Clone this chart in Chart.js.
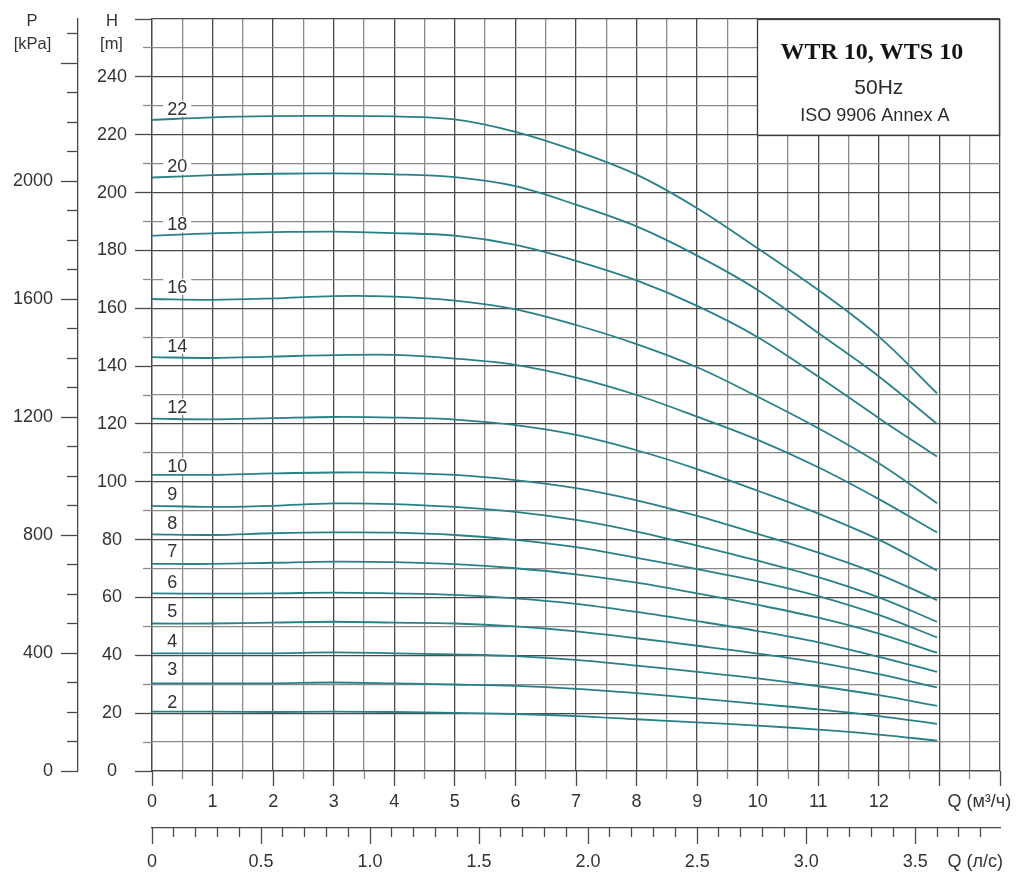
<!DOCTYPE html>
<html>
<head>
<meta charset="utf-8">
<script src="https://cdn.jsdelivr.net/npm/chart.js@4.4.1/dist/chart.umd.min.js"></script>
<style>
html,body{margin:0;padding:0;background:#fff;}
#wrap{width:1022px;height:875px;}
</style>
</head>
<body>
<div id="wrap"><canvas id="c" width="1022" height="875"></canvas></div>
<script>
// ---------- data ----------
const Q_M3H = [0, 1, 2, 3, 4, 5, 6, 7, 8, 9, 10, 11, 12, 12.96];
const H_22 = [225.1, 226.0, 226.4, 226.5, 226.3, 225.3, 221.0, 214.4, 206.2, 194.6, 180.7, 166.3, 150.2, 130.6];
const H_20 = [205.2, 206.0, 206.5, 206.6, 206.3, 205.3, 202.2, 195.8, 188.3, 178.2, 166.3, 151.4, 136.4, 120.0];
const H_18 = [185.1, 185.9, 186.3, 186.5, 186.0, 185.1, 181.9, 176.4, 169.6, 160.8, 150.0, 136.4, 122.0, 108.7];
const H_16 = [163.2, 162.9, 163.4, 164.2, 164.0, 162.6, 159.6, 154.2, 147.6, 139.6, 129.4, 118.5, 106.4, 92.6];
const H_14 = [143.1, 142.8, 143.3, 143.8, 143.9, 142.6, 140.4, 136.0, 130.0, 122.5, 114.5, 105.0, 94.0, 82.5];
const H_12 = [121.8, 121.6, 122.0, 122.4, 122.2, 121.5, 119.6, 116.2, 110.9, 104.4, 96.9, 89.0, 80.0, 69.3];
const H_10 = [102.4, 102.4, 102.9, 103.2, 103.1, 102.4, 100.6, 97.8, 93.6, 88.2, 82.0, 75.5, 68.0, 59.1];
const H_9  = [91.7, 91.3, 91.7, 92.5, 92.3, 91.3, 89.6, 86.8, 82.8, 77.9, 72.7, 67.0, 60.0, 51.6];
const H_8  = [81.8, 81.6, 82.2, 82.5, 82.4, 81.6, 79.9, 77.4, 73.7, 69.8, 65.6, 60.5, 54.0, 46.2];
const H_7  = [71.6, 71.6, 72.0, 72.4, 72.2, 71.5, 70.1, 68.0, 65.1, 61.4, 57.4, 53.0, 47.5, 40.9];
const H_6  = [61.4, 61.3, 61.4, 61.7, 61.4, 60.9, 59.7, 57.8, 55.0, 51.8, 48.4, 44.5, 39.5, 34.3];
const H_5  = [51.0, 51.0, 51.3, 51.6, 51.3, 51.0, 50.0, 48.3, 45.9, 43.3, 40.6, 37.5, 33.5, 28.9];
const H_4  = [40.7, 40.7, 40.7, 41.0, 40.7, 40.3, 39.7, 38.4, 36.4, 34.3, 32.0, 29.3, 26.2, 22.5];
const H_3  = [30.3, 30.3, 30.3, 30.6, 30.3, 29.9, 29.4, 28.4, 26.9, 25.1, 23.2, 21.3, 19.0, 16.3];
const H_2  = [20.5, 20.5, 20.4, 20.5, 20.4, 20.1, 19.7, 19.0, 17.9, 16.8, 15.7, 14.3, 12.6, 10.5];

const STAGE_NAMES = ['22','20','18','16','14','12','10','9','8','7','6','5','4','3','2'];
const STAGE_HEADS = [H_22, H_20, H_18, H_16, H_14, H_12, H_10, H_9, H_8, H_7, H_6, H_5, H_4, H_3, H_2];
const STAGE_LABEL_H = [229, 209, 189, 167.5, 147, 126, 105.5, 95.6, 85.9, 75.9, 65.5, 55.4, 45, 35.3, 23.9];
const STAGE_LABEL_Q = 0.25;

// tick labels
const Q_LABELS = [0,1,2,3,4,5,6,7,8,9,10,11,12];
const H_LABELS = [0,20,40,60,80,100,120,140,160,180,200,220,240];
const P_LABELS = [0,400,800,1200,1600,2000];
const QLS_LABEL_VALUES = [0,0.5,1.0,1.5,2.0,2.5,3.0,3.5];
const QLS_LABEL_TEXT = ['0','0.5','1.0','1.5','2.0','2.5','3.0','3.5'];
const BOX_TEXT = ['WTR 10, WTS 10', '50Hz', 'ISO 9906 Annex A'];
const AXIS_TEXT = { p: 'P', pUnit: '[kPa]', h: 'H', hUnit: '[m]', q: 'Q (м³/ч)', qls: 'Q (л/с)' };

// grid / tick positions
const Q_GRID = Array.from({length: 29}, (_, i) => i * 0.5);      // 0..14 m3/h
const H_GRID = Array.from({length: 27}, (_, i) => i * 10);       // 0..260 m
const P_MINOR = Array.from({length: 26}, (_, i) => i * 100);     // 0..2500 kPa
const QLS_MINOR = Array.from({length: 39}, (_, i) => i / 10);    // 0..3.8 l/s
const H_MAX = 260, Q_MAX = 14, KPA_PER_M = 9.81, M3H_PER_LS = 3.6;

// ---------- style ----------
const FONT = "'Liberation Sans', Arial, Helvetica, sans-serif";
const FS = 18;
const C_MAJOR = '#4a4a4a', C_MINOR = '#8a8a8a', C_TEXT = '#333333', C_CURVE = '#2a8185';
const isInt = v => Math.abs(v - Math.round(v)) < 1e-6;
const al = (p, w) => Math.round(p - w / 2) + w / 2;

const datasets = STAGE_NAMES.map((name, i) => ({
  label: name,
  data: Q_M3H.map((q, j) => ({ x: q, y: STAGE_HEADS[i][j] })),
  borderColor: C_CURVE,
  borderWidth: 1.8,
  pointRadius: 0,
  fill: false,
  tension: 0.35,
  xAxisID: 'x',
  yAxisID: 'y'
}));

function line(ctx, x1, y1, x2, y2) { ctx.beginPath(); ctx.moveTo(x1, y1); ctx.lineTo(x2, y2); ctx.stroke(); }

const decor = {
  id: 'decor',
  beforeDatasetsDraw(chart) {
    const { ctx, scales: { x, y } } = chart;
    ctx.save();
    // info box
    const bx1 = x.getPixelForValue(10), bx2 = x.getPixelForValue(14);
    const by1 = y.getPixelForValue(260), by2 = y.getPixelForValue(220);
    ctx.fillStyle = '#fff';
    ctx.fillRect(bx1, by1, bx2 - bx1, by2 - by1);
    ctx.strokeStyle = '#3a3a3a'; ctx.lineWidth = 1.3;
    ctx.strokeRect(al(bx1, 1), al(by1, 1), Math.round(bx2 - bx1), Math.round(by2 - by1));
    const cx = (bx1 + bx2) / 2;
    ctx.textAlign = 'center'; ctx.textBaseline = 'alphabetic';
    ctx.fillStyle = '#141414';
    ctx.font = "bold 24px 'Liberation Serif', 'Times New Roman', serif";
    ctx.fillText(BOX_TEXT[0], cx - 7, by1 + 39.5);
    ctx.fillStyle = '#2a2a2a';
    ctx.font = '21px ' + FONT;
    ctx.fillText(BOX_TEXT[1], cx, by1 + 74.5);
    ctx.font = '18px ' + FONT;
    ctx.fillText(BOX_TEXT[2], cx - 4, by1 + 102);
    // curve labels
    ctx.font = FS + 'px ' + FONT;
    ctx.textAlign = 'left'; ctx.textBaseline = 'middle';
    STAGE_NAMES.forEach((name, i) => {
      const px = x.getPixelForValue(STAGE_LABEL_Q);
      const py = y.getPixelForValue(STAGE_LABEL_H[i]);
      const w = ctx.measureText(name).width;
      ctx.fillStyle = '#fff';
      ctx.fillRect(px - 4, py - 8, w + 8, 16);
      ctx.fillStyle = C_TEXT;
      ctx.fillText(name, px, py + 1);
    });
    ctx.restore();
  },
  afterDraw(chart) {
    const { ctx, chartArea, scales: { x, y, p, q2 } } = chart;
    ctx.save();
    ctx.lineWidth = 1.3;
    // H ticks
    H_GRID.forEach(v => {
      const major = v % 20 === 0;
      const py = al(y.getPixelForValue(v), 1);
      ctx.strokeStyle = major ? C_MAJOR : C_MINOR;
      line(ctx, chartArea.left - (major ? 17 : 9), py, chartArea.left, py);
    });
    // Q (m3/h) ticks
    Q_GRID.forEach(v => {
      const major = isInt(v);
      const px = al(x.getPixelForValue(v), 1);
      ctx.strokeStyle = major ? C_MAJOR : C_MINOR;
      line(ctx, px, chartArea.bottom, px, chartArea.bottom + (major ? 15 : 8));
    });
    // P ticks
    ctx.strokeStyle = C_MAJOR;
    P_MINOR.forEach(v => {
      const major = v % 400 === 0;
      const py = al(p.getPixelForValue(v), 1);
      line(ctx, p.right - (major ? 17 : 11), py, p.right, py);
    });
    // Q (l/s) ticks
    QLS_MINOR.forEach(v => {
      const major = isInt(v * 2);
      const px = al(q2.getPixelForValue(v), 1);
      line(ctx, px, q2.top, px, q2.top + (major ? 16 : 9));
    });
    // axis titles
    ctx.fillStyle = C_TEXT;
    ctx.textBaseline = 'middle';
    ctx.textAlign = 'center';
    ctx.font = '16.5px ' + FONT;
    ctx.fillText(AXIS_TEXT.p, 32, 21);
    ctx.fillText(AXIS_TEXT.pUnit, 32.5, 44.5);
    ctx.fillText(AXIS_TEXT.h, 112, 21);
    ctx.fillText(AXIS_TEXT.hUnit, 111.5, 44);
    ctx.textAlign = 'left';
    ctx.font = FS + 'px ' + FONT;
    ctx.fillText(AXIS_TEXT.q, x.getPixelForValue(13) + 8, x.top + 31.5);
    ctx.fillText(AXIS_TEXT.qls, x.getPixelForValue(13) + 8, q2.top + 34);
    ctx.restore();
  }
};

const noPad = s => { s.paddingTop = 0; s.paddingBottom = 0; s.paddingLeft = 0; s.paddingRight = 0; };
const tickFont = { family: FONT, size: FS };

new Chart(document.getElementById('c'), {
  type: 'line',
  data: { datasets },
  plugins: [decor],
  options: {
    responsive: false,
    animation: false,
    events: [],
    devicePixelRatio: 1,
    layout: { padding: { left: 0, right: 22, top: 19, bottom: 0 } },
    plugins: { legend: { display: false }, tooltip: { enabled: false } },
    scales: {
      x: {
        type: 'linear', position: 'bottom', weight: 0, min: 0, max: Q_MAX,
        afterBuildTicks: s => { s.ticks = Q_GRID.map(v => ({ value: v })); },
        afterFit: s => { s.height = 57; noPad(s); },
        grid: { color: c => (c.tick && isInt(c.tick.value)) ? C_MAJOR : C_MINOR, lineWidth: 1.3, drawTicks: false },
        border: { display: true, color: C_MAJOR, width: 1.3 },
        ticks: { autoSkip: false, maxRotation: 0, minRotation: 0, padding: 20, color: C_TEXT, font: tickFont,
          callback: v => Q_LABELS.includes(v) ? String(v) : '' }
      },
      q2: {
        type: 'linear', position: 'bottom', weight: 1, min: 0, max: Q_MAX / M3H_PER_LS,
        afterBuildTicks: s => { s.ticks = QLS_LABEL_VALUES.map(v => ({ value: v })); },
        afterFit: s => { s.height = 47; noPad(s); },
        grid: { drawOnChartArea: false, drawTicks: false },
        border: { display: true, color: C_MAJOR, width: 1.3 },
        ticks: { autoSkip: false, maxRotation: 0, minRotation: 0, padding: 23, color: C_TEXT, font: tickFont,
          callback: (v, i) => QLS_LABEL_TEXT[i] }
      },
      y: {
        type: 'linear', position: 'left', weight: 0, min: 0, max: H_MAX,
        afterBuildTicks: s => { s.ticks = H_GRID.map(v => ({ value: v })); },
        afterFit: s => { s.width = 74; noPad(s); },
        grid: { color: c => (c.tick && c.tick.value % 20 === 0) ? C_MAJOR : C_MINOR, lineWidth: 1.3, drawTicks: false },
        border: { display: true, color: C_MAJOR, width: 1.3 },
        ticks: { autoSkip: false, crossAlign: 'center', padding: 25, color: C_TEXT, font: tickFont,
          callback: v => H_LABELS.includes(v) ? String(v) : '' }
      },
      p: {
        type: 'linear', position: 'left', weight: 1, min: 0, max: H_MAX * KPA_PER_M,
        afterBuildTicks: s => { s.ticks = P_LABELS.map(v => ({ value: v })); },
        afterFit: s => { s.width = 78; noPad(s); },
        grid: { drawOnChartArea: false, drawTicks: false },
        border: { display: true, color: C_MAJOR, width: 1.3 },
        ticks: { autoSkip: false, padding: 25, color: C_TEXT, font: tickFont,
          callback: v => String(v) }
      }
    }
  }
});
</script>
</body>
</html>
